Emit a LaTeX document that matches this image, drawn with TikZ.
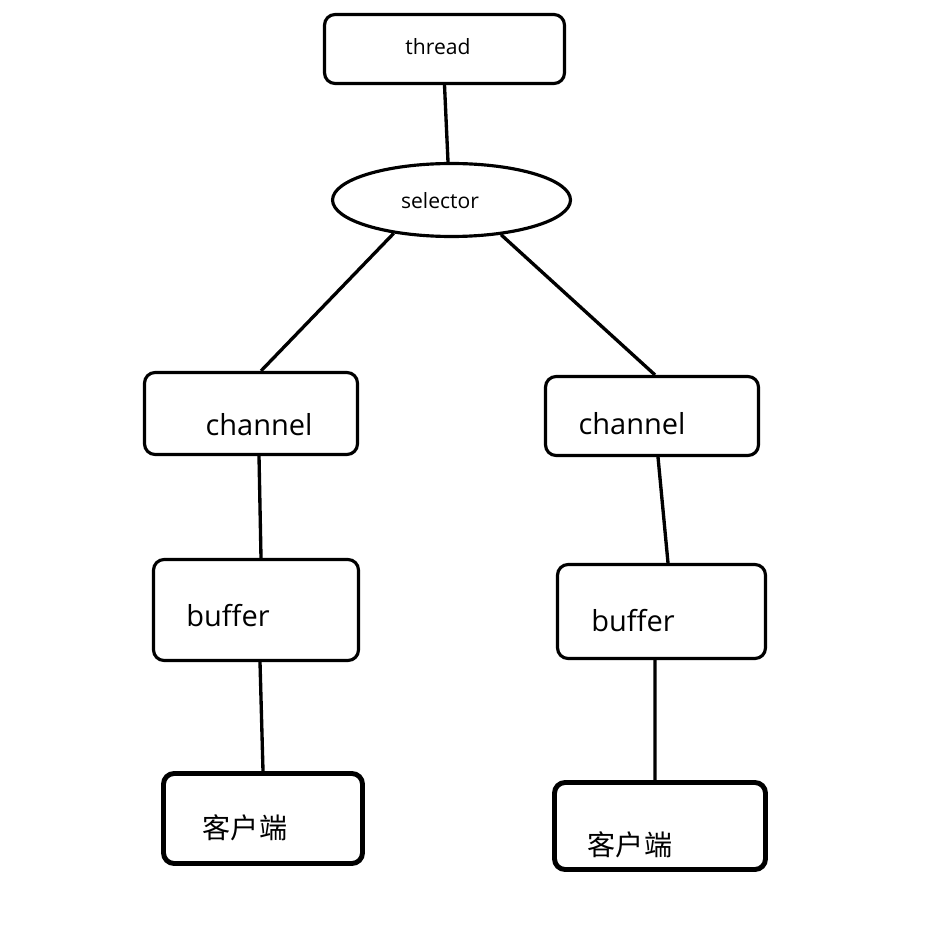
\documentclass[tikz,border=0pt]{standalone}
\usepackage{fontspec}
\setmainfont{Open Sans}
\newfontfamily\cjk{Noto Sans CJK SC}
\usetikzlibrary{shapes.geometric}

\tikzset{
  box/.style={draw, line width=1.8pt, rounded corners=6pt, inner sep=0pt},
  clientbox/.style={box, line width=2.8pt},
  sel/.style={draw, ellipse, line width=1.8pt, inner sep=0pt},
  link/.style={line width=1.9pt},
  small/.style={font=\fontsize{12}{14}\selectfont},
  big/.style={font=\fontsize{16.5}{19}\selectfont},
  zh/.style={font=\cjk\fontsize{16}{19}\selectfont}
}

\begin{document}
\begin{tikzpicture}[x=0.02cm, y=-0.02cm]
\useasboundingbox (0,0) rectangle (928,925);
% boxes
\node[box, minimum width=4.8cm, minimum height=1.38cm] (thread) at (444.5,49) {};
\node[sel, minimum width=4.76cm, minimum height=1.46cm] (selector) at (451.5,200) {};
\node[box, minimum width=4.26cm, minimum height=1.64cm] (lch) at (251,413.5) {};
\node[box, minimum width=4.26cm, minimum height=1.58cm] (rch) at (652,416) {};
\node[box, minimum width=4.1cm, minimum height=2.02cm] (lbuf) at (256,610) {};
\node[box, minimum width=4.16cm, minimum height=1.88cm] (rbuf) at (661.5,611.5) {};
\node[clientbox, minimum width=3.98cm, minimum height=1.8cm] (lcl) at (263,818.5) {};
\node[clientbox, minimum width=4.22cm, minimum height=1.74cm] (rcl) at (660,826) {};
% texts
\node[small] (thread-t) at (438,47) {thread};
\node[small] (selector-t) at (440,201) {selector};
\node[big] (lch-t) at (259,425) {channel};
\node[big] (rch-t) at (632,424) {channel};
\node[big] (lbuf-t) at (228,616) {buffer};
\node[big] (rbuf-t) at (633,621) {buffer};
\node[zh] (lcl-t) at (245,828) {客户端};
\node[zh] (rcl-t) at (630,845) {客户端};
% connectors
\draw[link] (thread.south) -- ([xshift=-0.07cm]selector.north);
\draw[link] (selector.210) -- ([xshift=0.2cm]lch.north);
\draw[link] (selector.325) -- ([xshift=0.06cm]rch.north);
\draw[link] ([xshift=0.16cm]lch.south) -- ([xshift=0.1cm]lbuf.north);
\draw[link] ([xshift=0.12cm]rch.south) -- ([xshift=0.13cm]rbuf.north);
\draw[link] ([xshift=0.08cm]lbuf.south) -- (lcl.north);
\draw[link] ([xshift=-0.13cm]rbuf.south) -- ([xshift=-0.1cm]rcl.north);
\end{tikzpicture}
\end{document}
